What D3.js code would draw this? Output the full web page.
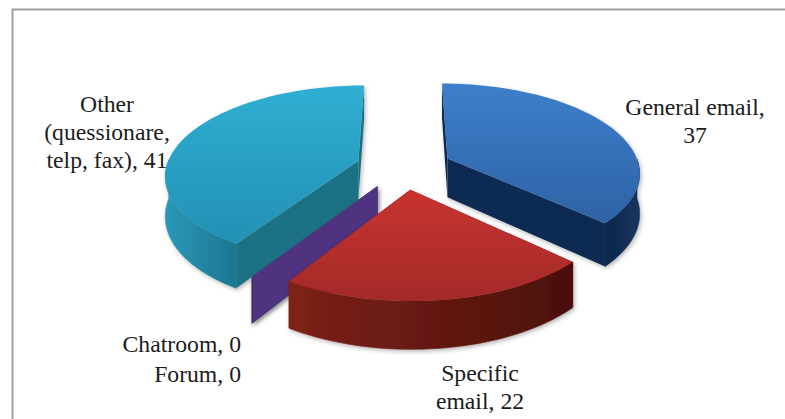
<!DOCTYPE html>
<html>
<head>
<meta charset="utf-8">
<script src="https://cdnjs.cloudflare.com/ajax/libs/d3/7.8.5/d3.min.js"></script>
<style>
  html, body { margin: 0; padding: 0; background: #fff; }
  svg { display: block; }
  text { font-family: "Liberation Serif", "Times New Roman", serif; font-size: 23.7px; fill: #1c1c1c; }
</style>
</head>
<body>
<div id="chart"></div>
<script>
// Contact channels and the number of responses for each
const categories = ["General email", "Specific email", "Forum", "Chatroom", "Other"];
const responses = [37, 22, 0, 0, 41];

// Label lines shown next to the pie
const labelLines = [
  ["General email,", "37"],
  ["Specific", "email, 22"],
  ["Forum, 0"],
  ["Chatroom, 0"],
  ["Other", "(quessionare,", "telp, fax), 41"]
];
const labelAnchors = [[695, 115, "middle"], [480, 381, "middle"], [241, 382, "end"], [241, 352, "end"], [107, 112, "middle"]];

// Surface colours: top edge of lid, bottom edge of lid, outer rim from/to, cut face
const lidTop = ["#3d7fcb", "#c9322f", "#6b9a3a", "#5b3c8e", "#30aed3"];
const lidBottom = ["#2e62a5", "#a32b2a", "#55802c", "#4f3380", "#2291b4"];
const rimLeft = ["#0f2748", "#7e2118", "#3f5c20", "#3d2763", "#2a98b8"];
const rimRight = ["#14345f", "#4a100b", "#3f5c20", "#3d2763", "#1c7690"];
const faceColor = ["#112c52", "#5a1610", "#3f5c20", "#4f3380", "#1d7185"];

const width = 785, height = 419;
const centerX = 404, centerY = 167;
const radiusX = 192, radiusY = 88, perspective = 0.145;
const thickness = 39.5, explode = 0.25;

// Flat pie coordinates are x to the right, y away from the viewer, unit radius
function project(x, y, drop) {
  const w = 1 + perspective * y;
  return [centerX + radiusX * x / w, centerY + (drop - radiusY * y) / w];
}

const pie = d3.pie().sort(null).value(d => d).startAngle(0).endAngle(2 * Math.PI);
const arcs = pie(responses);

const svg = d3.select("#chart").append("svg").attr("width", width).attr("height", height);
const defs = svg.append("defs");

const shadow = defs.append("filter").attr("id", "soft")
  .attr("x", "-10%").attr("y", "-10%").attr("width", "120%").attr("height", "120%");
shadow.append("feDropShadow").attr("dx", 1.5).attr("dy", 2).attr("stdDeviation", 2)
  .attr("flood-color", "#000").attr("flood-opacity", 0.28);

// Chart frame: only the top and left sides fall inside the page
svg.append("rect")
  .attr("x", 12.5).attr("y", 9.5)
  .attr("width", 800).attr("height", 440)
  .attr("fill", "#fff").attr("stroke", "#a0a0a0").attr("stroke-width", 2);

const line = d3.line();

function sliceGeometry(a) {
  const mid = (a.startAngle + a.endAngle) / 2;
  const ox = explode * Math.sin(mid), oy = explode * Math.cos(mid);
  const span = a.endAngle - a.startAngle;
  const steps = Math.max(2, Math.ceil(span / 0.03));
  const angle = d3.scaleLinear().domain([0, steps]).range([a.startAngle, a.endAngle]);
  const thetas = d3.range(steps + 1).map(angle);
  const ring = thetas.map(t => [ox + Math.sin(t), oy + Math.cos(t)]);
  return { apex: [ox, oy], ring, thetas };
}

// Back-to-front painting order keeps the near slices over the far ones
const paintOrder = [0, 4, 2, 3, 1];

paintOrder.forEach(i => {
  const a = arcs[i];
  const g = svg.append("g").attr("filter", "url(#soft)");
  const { apex, ring, thetas } = sliceGeometry(a);
  const lidPts = [apex, ...ring].map(p => project(p[0], p[1], 0));
  const ys = lidPts.map(p => p[1]);

  const lidId = "lid" + i;
  const lg = defs.append("linearGradient").attr("id", lidId)
    .attr("gradientUnits", "userSpaceOnUse")
    .attr("x1", 0).attr("x2", 0).attr("y1", d3.min(ys)).attr("y2", d3.max(ys));
  lg.append("stop").attr("offset", 0).attr("stop-color", lidTop[i]);
  lg.append("stop").attr("offset", 1).attr("stop-color", lidBottom[i]);

  // Cut faces running from the centre out to each end of the arc
  const wall = p => line([
    project(apex[0], apex[1], 0), project(p[0], p[1], 0),
    project(p[0], p[1], thickness), project(apex[0], apex[1], thickness)
  ]) + "Z";
  [ring[0], ring[ring.length - 1]].forEach(p => {
    g.append("path").attr("d", wall(p)).attr("fill", faceColor[i]);
  });

  // Outer rim, only where it faces the viewer
  const visible = ring.filter((p, k) => Math.cos(thetas[k]) < 0.02);
  if (visible.length > 1) {
    const xs = visible.map(p => project(p[0], p[1], 0)[0]);
    const rimId = "rim" + i;
    const rg = defs.append("linearGradient").attr("id", rimId)
      .attr("gradientUnits", "userSpaceOnUse")
      .attr("x1", d3.min(xs)).attr("x2", d3.max(xs)).attr("y1", 0).attr("y2", 0);
    rg.append("stop").attr("offset", 0).attr("stop-color", rimLeft[i]);
    rg.append("stop").attr("offset", 1).attr("stop-color", rimRight[i]);
    const top = visible.map(p => project(p[0], p[1], 0));
    const bottom = visible.slice().reverse().map(p => project(p[0], p[1], thickness));
    g.append("path").attr("d", line([...top, ...bottom]) + "Z")
      .attr("fill", `url(#${rimId})`)
      .attr("stroke", `url(#${rimId})`).attr("stroke-width", 0.6);
  }

  g.append("path").attr("d", line(lidPts) + "Z").attr("fill", `url(#${lidId})`);
});

// Category labels
labelLines.forEach((lines, i) => {
  const [x, y, anchor] = labelAnchors[i];
  const t = svg.append("text").attr("text-anchor", anchor).attr("x", x).attr("y", y);
  lines.forEach((s, k) => {
    t.append("tspan").attr("x", x).attr("dy", k ? 28 : 0).text(s);
  });
});
</script>
</body>
</html>
